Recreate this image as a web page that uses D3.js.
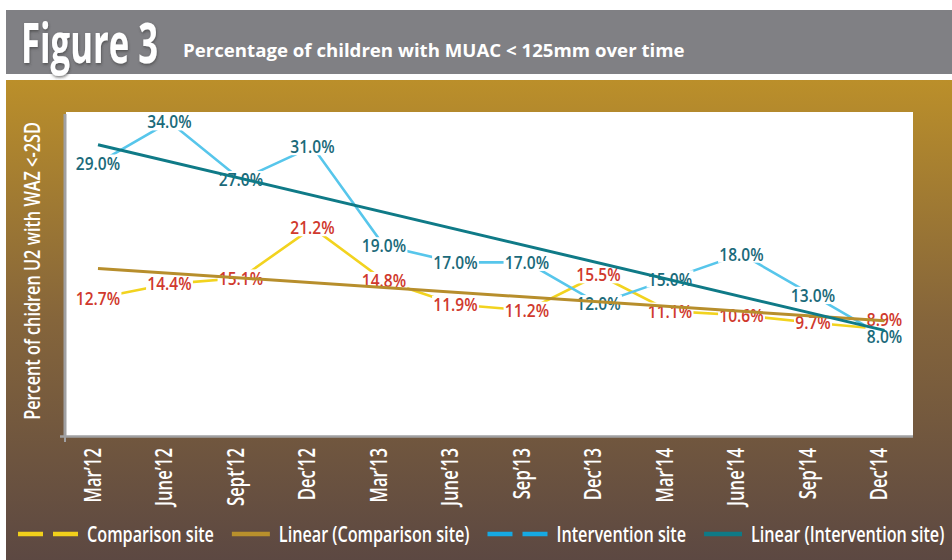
<!DOCTYPE html>
<html>
<head>
<meta charset="utf-8">
<script src="https://cdn.jsdelivr.net/npm/d3@7"></script>
<style>
  html, body { margin: 0; padding: 0; background: #ffffff; }
  svg { display: block; }
  text { font-family: "Open Sans", "Noto Sans", "DejaVu Sans", sans-serif; }
</style>
</head>
<body>
<svg id="chart" width="952" height="560"></svg>
<script>
// ---- data ----
const categories = ["Mar’12", "June’12", "Sept’12", "Dec’12", "Mar’13", "June’13",
                    "Sep’13", "Dec’13", "Mar’14", "June’14", "Sep’14", "Dec’14"];
const comparisonValues   = [12.7, 14.4, 15.1, 21.2, 14.8, 11.9, 11.2, 15.5, 11.1, 10.6, 9.7, 8.9];
const interventionValues = [29.0, 34.0, 27.0, 31.0, 19.0, 17.0, 17.0, 12.0, 15.0, 18.0, 13.0, 8.0];
const seriesNames = ["Comparison site", "Linear (Comparison site)",
                     "Intervention site", "Linear (Intervention site)"];
const titleText = "Figure 3";
const subtitleText = "Percentage of children with MUAC < 125mm over time";
const yAxisTitle = "Percent of chidren U2 with WAZ <-2SD";

// ---- palette ----
const colors = {
  compLine: "#f2d31f", compTrend: "#b78e2c", compLabel: "#d0392d",
  intLine: "#57c6eb", intTrend: "#0f7a87", intLabel: "#1b6a7a",
  legendYellow: "#f1d01b", legendBrown: "#b8902c", legendBlue: "#16a9e3", legendTeal: "#0e7a86"
};

const svg = d3.select("#chart");
const defs = svg.append("defs");

const grad = defs.append("linearGradient").attr("id", "bg")
  .attr("x1", 0).attr("y1", 0).attr("x2", 0).attr("y2", 1);
grad.append("stop").attr("offset", "0%").attr("stop-color", "#bb8f2a");
grad.append("stop").attr("offset", "50%").attr("stop-color", "#85653b");
grad.append("stop").attr("offset", "100%").attr("stop-color", "#5c4842");

const shadow = defs.append("filter").attr("id", "shadow")
  .attr("x", "-20%").attr("y", "-20%").attr("width", "140%").attr("height", "140%");
shadow.append("feDropShadow").attr("dx", 1).attr("dy", 1.5)
  .attr("stdDeviation", 1.6).attr("flood-color", "#3a3a3c").attr("flood-opacity", 0.7);

// horizontal factor that makes a text element exactly `width` long
function fitWidth(sel, width) {
  const len = sel.node().getComputedTextLength();
  return width / len;
}

// ---- header ----
svg.append("rect").attr("x", 6).attr("y", 10).attr("width", 946).attr("height", 64)
  .attr("fill", "#808084");

const titleG = svg.append("g");
const titleT = titleG.append("text")
  .attr("font-family", "'DejaVu Sans', sans-serif")
  .attr("font-weight", "bold").attr("font-size", 55).attr("fill", "#ffffff")
  .attr("filter", "url(#shadow)")
  .text(titleText);
titleG.attr("transform", `translate(21,63) scale(${fitWidth(titleT, 137)},1)`);

const subG = svg.append("g");
const subT = subG.append("text")
  .attr("font-weight", 700).attr("font-size", 18.5).attr("fill", "#ffffff")
  .text(subtitleText);
subG.attr("transform", `translate(183,57) scale(${fitWidth(subT, 502)},1)`);

// ---- background panel ----
svg.append("rect").attr("x", 6).attr("y", 80).attr("width", 946).attr("height", 480)
  .attr("fill", "url(#bg)");

// ---- plot area ----
const plot = { left: 66, top: 112, right: 913, bottom: 436 };
svg.append("rect").attr("x", plot.left).attr("y", plot.top)
  .attr("width", plot.right - plot.left).attr("height", plot.bottom - plot.top)
  .attr("fill", "#ffffff");

const x = d3.scalePoint().domain(categories).range([98, 884.5]);
const y = d3.scaleLinear().domain([-4, 35]).range([plot.bottom, 113.5]);

// y axis: domain line only
const yAxisG = svg.append("g").attr("transform", `translate(${plot.left - 1.5},0)`)
  .call(d3.axisLeft(y).tickValues([]).tickSizeOuter(0));
yAxisG.select(".domain").attr("stroke", "#a0a0a2").attr("stroke-width", 3);

// x axis: rotated category labels
const xAxisG = svg.append("g").attr("transform", `translate(0,${plot.bottom})`)
  .call(d3.axisBottom(x).tickSize(0).tickPadding(0));
xAxisG.select(".domain").remove();
xAxisG.selectAll(".tick text")
  .attr("fill", "#ffffff").attr("font-size", 22.5).attr("font-weight", 600)
  .attr("text-anchor", "end").attr("x", 0).attr("y", 0).attr("dy", 0)
  .attr("transform", "translate(2,12) rotate(-90) scale(0.74,1)");

svg.append("line").attr("x1", 60).attr("x2", plot.right)
  .attr("y1", plot.bottom + 0.5).attr("y2", plot.bottom + 0.5)
  .attr("stroke", "#a0a0a2").attr("stroke-width", 2.5);
svg.append("line").attr("x1", 65).attr("x2", 65)
  .attr("y1", plot.bottom).attr("y2", plot.bottom + 6)
  .attr("stroke", "#a0a0a2").attr("stroke-width", 2);

// y axis title
const yTitleG = svg.append("g");
const yTitleT = yTitleG.append("text")
  .attr("font-weight", 600).attr("font-size", 21).attr("fill", "#ffffff")
  .attr("text-anchor", "middle")
  .text(yAxisTitle);
yTitleG.attr("transform", `translate(40,271) rotate(-90) scale(${fitWidth(yTitleT, 298)},1)`);

// ---- series lines ----
const lineGen = d3.line().x((d, i) => x(categories[i])).y(d => y(d));

svg.append("path").datum(comparisonValues).attr("d", lineGen)
  .attr("fill", "none").attr("stroke", colors.compLine).attr("stroke-width", 2.6);
svg.append("path").datum(interventionValues).attr("d", lineGen)
  .attr("fill", "none").attr("stroke", colors.intLine).attr("stroke-width", 2.6);

// ---- data labels (white boxes break the lines behind them) ----
const labelSize = 18.5, labelSqueeze = 0.84, capH = labelSize * 0.714;

// lift the higher label of a crowded category so the pair stays readable
const minGap = 17;
function offsetsFor(values, others) {
  return values.map((v, i) => {
    const gap = Math.abs(y(v) - y(others[i]));
    return gap < minGap && v > others[i] ? -(minGap - gap) : 0;
  });
}
const compOffsets = offsetsFor(comparisonValues, interventionValues);
const intOffsets = offsetsFor(interventionValues, comparisonValues);

function drawLabels(values, offsets, color) {
  const g = svg.append("g");
  values.forEach((v, i) => {
    const lg = g.append("g")
      .attr("transform", `translate(${x(categories[i])},${y(v) + offsets[i]}) scale(${labelSqueeze},1)`);
    const rect = lg.append("rect").attr("fill", "#ffffff");
    const t = lg.append("text")
      .attr("text-anchor", "middle").attr("y", capH / 2)
      .attr("font-size", labelSize).attr("font-weight", 600).attr("fill", color)
      .text(d3.format(".1f")(v) + "%");
    const w = t.node().getComputedTextLength() + 3;
    rect.attr("x", -w / 2).attr("y", -capH / 2 - 2).attr("width", w).attr("height", capH + 4);
  });
}
drawLabels(comparisonValues, compOffsets, colors.compLabel);
drawLabels(interventionValues, intOffsets, colors.intLabel);

// ---- linear trend lines (least squares over category index) ----
function trend(values) {
  const n = values.length;
  const xs = d3.range(1, n + 1);
  const mx = d3.mean(xs), my = d3.mean(values);
  const sxy = d3.sum(xs, (xi, i) => (xi - mx) * (values[i] - my));
  const sxx = d3.sum(xs, xi => (xi - mx) * (xi - mx));
  const b = sxy / sxx, a = my - b * mx;
  return [a + b * 1, a + b * n];
}
const trendLine = d3.line().x(d => x(d[0])).y(d => y(d[1]));
const cT = trend(comparisonValues), iT = trend(interventionValues);
const last = categories[categories.length - 1];

svg.append("path").datum([[categories[0], cT[0]], [last, cT[1]]]).attr("d", trendLine)
  .attr("fill", "none").attr("stroke", colors.compTrend).attr("stroke-width", 3);
svg.append("path").datum([[categories[0], iT[0]], [last, iT[1]]]).attr("d", trendLine)
  .attr("fill", "none").attr("stroke", colors.intTrend).attr("stroke-width", 3);

// ---- legend: one row from x=18 to x=945 ----
const legendItems = [
  { name: seriesNames[0], color: colors.legendYellow, dashed: true },
  { name: seriesNames[1], color: colors.legendBrown, dashed: false },
  { name: seriesNames[2], color: colors.legendBlue, dashed: true },
  { name: seriesNames[3], color: colors.legendTeal, dashed: false }
];
const legendY = 534, legendLeft = 18, legendRight = 945;
const sampleW = d => d.dashed ? 60 : 38, textGap = 9, itemGap = 18;

const legendG = svg.append("g");
const legendTexts = legendItems.map(item =>
  legendG.append("g").append("text").attr("font-size", 22).attr("font-weight", 600)
    .attr("fill", "#ffffff").attr("y", 8).text(item.name));
const rawSum = d3.sum(legendTexts, t => t.node().getComputedTextLength());
const fixed = d3.sum(legendItems, d => sampleW(d) + textGap) + itemGap * (legendItems.length - 1);
const legendSqueeze = (legendRight - legendLeft - fixed) / rawSum;

let lx = legendLeft;
legendItems.forEach((item, k) => {
  if (item.dashed) {
    [0, 35].forEach(off => {
      legendG.append("line").attr("x1", lx + off).attr("x2", lx + off + 25)
        .attr("y1", legendY).attr("y2", legendY)
        .attr("stroke", item.color).attr("stroke-width", 4.5);
    });
  } else {
    legendG.append("line").attr("x1", lx).attr("x2", lx + 38)
      .attr("y1", legendY).attr("y2", legendY)
      .attr("stroke", item.color).attr("stroke-width", 4.5);
  }
  lx += sampleW(item) + textGap;
  const t = legendTexts[k];
  d3.select(t.node().parentNode)
    .attr("transform", `translate(${lx},${legendY}) scale(${legendSqueeze},1)`);
  lx += t.node().getComputedTextLength() * legendSqueeze + itemGap;
});
</script>
</body>
</html>
